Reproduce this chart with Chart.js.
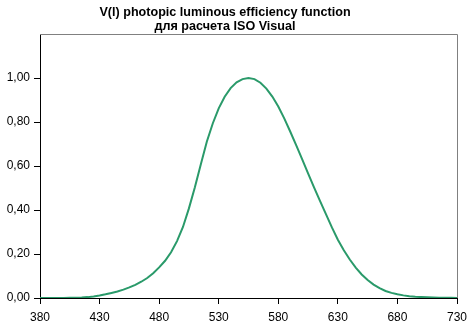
<!DOCTYPE html>
<html>
<head>
<meta charset="utf-8">
<script src="https://cdn.jsdelivr.net/npm/chart.js@4/dist/chart.umd.min.js"></script>
<style>
  html, body { margin: 0; padding: 0; background: #fff; }
  canvas { display: block; }
</style>
</head>
<body>
<canvas id="c" width="474" height="330"></canvas>
<script>
// Title lines
const titleLines = ['V(l) photopic luminous efficiency function', 'для расчета ISO Visual'];

// Wavelength, nm (5 nm steps)
const wavelengths = [
  380, 385, 390, 395, 400, 405, 410, 415, 420, 425, 430, 435, 440, 445, 450, 455,
  460, 465, 470, 475, 480, 485, 490, 495, 500, 505, 510, 515, 520, 525, 530, 535,
  540, 545, 550, 555, 560, 565, 570, 575, 580, 585, 590, 595, 600, 605, 610, 615,
  620, 625, 630, 635, 640, 645, 650, 655, 660, 665, 670, 675, 680, 685, 690, 695,
  700, 705, 710, 715, 720, 725, 730
];

// Relative luminous efficiency V(λ)
const efficiency = [
  0.0000, 0.0001, 0.0001, 0.0002, 0.0004, 0.0006, 0.0012, 0.0022, 0.0040, 0.0073, 0.0116, 0.0168, 0.0230, 0.0298, 0.0380, 0.0480,
  0.0600, 0.0739, 0.0910, 0.1126, 0.1390, 0.1693, 0.2080, 0.2586, 0.3230, 0.4073, 0.5030, 0.6082, 0.7100, 0.7932, 0.8620, 0.9149,
  0.9540, 0.9803, 0.9950, 1.0000, 0.9950, 0.9786, 0.9520, 0.9154, 0.8700, 0.8163, 0.7570, 0.6949, 0.6310, 0.5668, 0.5030, 0.4412,
  0.3810, 0.3210, 0.2650, 0.2170, 0.1750, 0.1382, 0.1070, 0.0816, 0.0610, 0.0446, 0.0320, 0.0232, 0.0170, 0.0119, 0.0082, 0.0057,
  0.0041, 0.0029, 0.0021, 0.0015, 0.0010, 0.0007, 0.0005
];

// Axis ranges
const xMin = 380, xMax = 730, xStep = 50;
const yMin = 0, yMax = 1.2, yStep = 0.2;

const points = wavelengths.map((w, i) => ({ x: w, y: efficiency[i] }));

const FONT = '"Liberation Sans", Arial, sans-serif';

// Draws the two-line heading and the grey top/right frame of the plot area
const framePlugin = {
  id: 'frame',
  afterDraw(chart) {
    const { ctx, chartArea: a } = chart;
    ctx.save();
    ctx.strokeStyle = '#808080';
    ctx.lineWidth = 1;
    ctx.beginPath();
    ctx.moveTo(a.left, Math.round(a.top) + 0.5);
    ctx.lineTo(Math.round(a.right) + 0.5, Math.round(a.top) + 0.5);
    ctx.lineTo(Math.round(a.right) + 0.5, a.bottom);
    ctx.stroke();

    ctx.fillStyle = '#000';
    ctx.font = 'bold 12.6px ' + FONT;
    ctx.textAlign = 'center';
    ctx.textBaseline = 'middle';
    titleLines.forEach((t, i) => ctx.fillText(t, 225, 13 + i * 14));
    ctx.restore();
  }
};

new Chart(document.getElementById('c'), {
  type: 'line',
  data: {
    datasets: [{
      data: points,
      borderColor: '#2a9a6a',
      borderWidth: 2,
      pointRadius: 0,
      fill: false,
      tension: 0
    }]
  },
  options: {
    responsive: false,
    animation: false,
    devicePixelRatio: 1,
    layout: { padding: { top: 34, right: 17, left: 0, bottom: 0 } },
    plugins: { legend: { display: false }, tooltip: { enabled: false }, title: { display: false } },
    scales: {
      x: {
        type: 'linear',
        min: xMin, max: xMax,
        ticks: {
          stepSize: xStep,
          color: '#000',
          font: { family: FONT, size: 12 },
          padding: 6,
          maxRotation: 0
        },
        grid: { drawOnChartArea: false, drawTicks: true, tickLength: 6, color: '#000' },
        border: { color: '#000', width: 1 },
        afterFit(s) { s.height = 32; }
      },
      y: {
        min: yMin, max: yMax,
        ticks: {
          stepSize: yStep,
          color: '#000',
          font: { family: FONT, size: 12 },
          padding: 4,
          callback: v => v.toFixed(2).replace('.', ',')
        },
        afterBuildTicks(s) { s.ticks = s.ticks.filter(t => t.value < yMax - 1e-9); },
        grid: { drawOnChartArea: false, drawTicks: true, tickLength: 6, color: '#000' },
        border: { color: '#000', width: 1 },
        afterFit(s) { s.width = 40; }
      }
    }
  },
  plugins: [framePlugin]
});
</script>
</body>
</html>
